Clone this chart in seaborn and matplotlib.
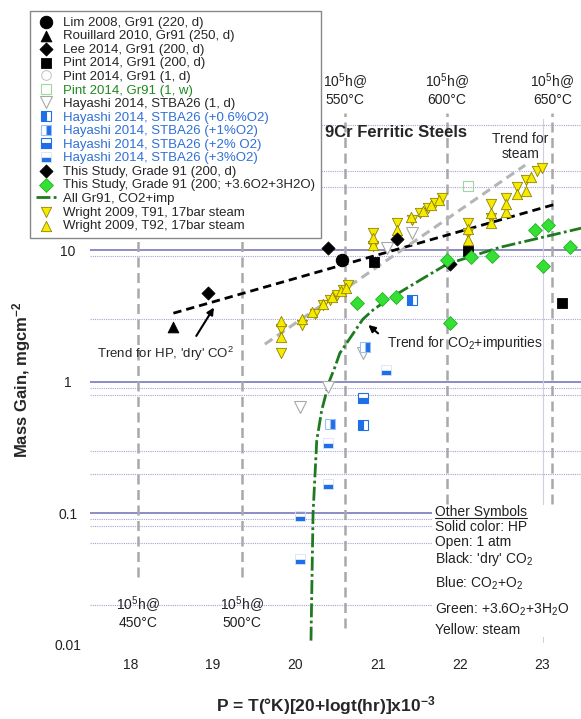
import numpy as np
import pandas as pd
import seaborn as sns
import matplotlib.pyplot as plt
from matplotlib.lines import Line2D
from matplotlib.patches import Rectangle

# ---- data (P parameter, mass gain mg/cm2) ----
lim_p = [20.57]
lim_m = [8.4]
rouillard_p = [18.52]
rouillard_m = [2.6]
lee_p = [18.94, 20.40]
lee_m = [4.7, 10.4]
pint200_p = [20.95, 22.10, 23.24]
pint200_m = [8.2, 9.8, 3.95]
pint1d_p = []
pint1d_m = []
pint1w_p = [22.10]
pint1w_m = [31.0]
hay1d_p = [21.11, 21.41, 20.06, 20.40, 20.82]
hay1d_m = [10.4, 13.5, 0.64, 0.91, 1.66]
hay06_p = [21.42, 20.82]
hay06_m = [4.2, 0.47]
hay1_p = [20.85, 20.42]
hay1_m = [1.83, 0.48]
hay2_p = [20.82]
hay2_m = [0.75]
hay3_p = [21.10, 20.40, 20.40, 20.06, 20.06]
hay3_m = [1.22, 0.34, 0.166, 0.095, 0.045]
study_dry_p = [21.23, 21.88]
study_dry_m = [12.1, 7.8]
study_wet_p = [20.75, 21.05, 21.22, 21.88, 21.84, 22.13, 22.39, 22.91, 23.07, 23.00, 23.33]
study_wet_m = [3.95, 4.24, 4.4, 2.79, 8.4, 8.85, 9.0, 14.2, 15.5, 7.55, 10.5]
t91_p = [19.83, 19.83, 20.08, 20.24, 20.34, 20.42, 20.50, 20.58, 20.64, 20.94, 20.94,
         21.23, 21.42, 21.51, 21.61, 21.70, 21.78, 22.10, 22.10, 22.38, 22.38, 22.56,
         22.69, 22.80, 22.93, 22.99]
t91_m = [1.65, 2.5, 2.7, 3.3, 3.8, 4.2, 4.6, 5.0, 5.4, 10.8, 13.6,
         16.0, 17.0, 19.0, 21.0, 23.0, 25.0, 13.5, 16.0, 17.5, 22.5, 25.0,
         30.0, 34.0, 40.0, 42.0]
t92_p = [19.83, 19.83, 20.08, 20.20, 20.34, 20.45, 20.55, 20.62, 20.94, 20.94, 21.23,
         21.40, 21.55, 21.65, 21.74, 22.10, 22.10, 22.38, 22.38, 22.56, 22.56, 22.69,
         22.80, 22.86]
t92_m = [2.2, 2.9, 3.0, 3.4, 3.9, 4.4, 4.9, 5.2, 11.0, 12.3, 14.3,
         18.0, 20.0, 22.0, 24.0, 12.0, 14.5, 16.0, 19.0, 19.5, 22.5, 26.5,
         28.0, 36.0]

# trend lines
dry_trend_p = [18.52, 23.16]
dry_trend_m = [3.32, 22.4]
steam_trend_p = [19.63, 22.79]
steam_trend_m = [1.93, 44.3]
imp_trend_p = [20.19, 20.215, 20.26, 20.32, 20.41, 20.48, 20.54, 20.82, 20.94,
               21.11, 21.51, 21.84, 22.48, 23.47]
imp_trend_m = [0.0108, 0.1, 0.359, 0.607, 1.0, 1.29, 1.65, 2.99, 3.5,
               4.17, 5.9, 7.83, 10.5, 14.7]

# 10^5 h reference lines
ref_p = [18.09, 19.35, 20.60, 21.84, 23.12]
ref_t = ['450', '500', '550', '600', '650']

xticks = [18, 19, 20, 21, 22, 23]
yticks = [0.01, 0.1, 1, 10]
ytick_labels = ['0.01', '0.1', '1', '10']
solid_grid = [0.1, 1, 10]
dotted_grid = [0.02, 0.06, 0.08, 0.09, 0.2, 0.3, 0.8, 0.9, 3, 9, 30, 40, 90]

sns.set_style("white")
plt.rcParams['font.family'] = ['Liberation Sans', 'DejaVu Sans']
plt.rcParams['mathtext.fontset'] = 'custom'
plt.rcParams['mathtext.rm'] = 'Liberation Sans'
plt.rcParams['mathtext.it'] = 'Liberation Sans:italic'
plt.rcParams['mathtext.bf'] = 'Liberation Sans:bold'

W, H = 581, 719
fig = plt.figure(figsize=(W / 100, H / 100), dpi=100)
ax = fig.add_axes([90 / W, (H - 645) / H, (W - 90) / W, 540 / H])
ax.set_yscale('log')
ax.set_xlim(17.508, 23.467)
ax.set_ylim(0.01, 126.8)
for s in ax.spines.values():
    s.set_visible(False)

# grid
for v in solid_grid:
    ax.axhline(v, color='#6e6eb4', lw=1.1, zorder=0)
for v in dotted_grid:
    ax.axhline(v, color='#a4a4d4', lw=0.8, ls=(0, (1, 1)), zorder=0)
ax.plot([23.0, 23.0], [0.0105, 100], color='#cfcfe0', lw=0.8, zorder=0)

# reference lines for 1e5 h
for p, t in zip(ref_p, ref_t):
    lo = 0.033 if t in ('450', '500') else 0.0135
    ax.plot([p, p], [lo, 110], color='#a9a9a9', lw=1.8, dashes=(4, 2.2), zorder=1)
    lbl = '10$^5$h@\n' + t + '°C'
    ypos = 0.0178 if t in ('450', '500') else 167
    ax.text(p, ypos, lbl, ha='center', va='center', fontsize=10,
            linespacing=1.15, color='#222222')

# trend lines
ax.plot(dry_trend_p, dry_trend_m, color='black', lw=2, dashes=(3, 1.8), zorder=2)
ax.plot(steam_trend_p, steam_trend_m, color='#b5b5b5', lw=2.2, dashes=(3, 1.8), zorder=2)
ax.plot(imp_trend_p, imp_trend_m, color='#1f7a1f', lw=2, dashes=(5, 1.2, 1, 1.2), zorder=2,
        label='All Gr91, CO2+imp')

# markers
blue = '#1f6fe8'
sns.scatterplot(x=lim_p, y=lim_m, marker='o', s=80, color='black', ec='black', ax=ax,
                label='Lim 2008, Gr91 (220, d)', zorder=4)
sns.scatterplot(x=rouillard_p, y=rouillard_m, marker='^', s=60, color='black', ec='black', ax=ax,
                label='Rouillard 2010, Gr91 (250, d)', zorder=4)
sns.scatterplot(x=lee_p, y=lee_m, marker='D', s=45, color='black', ec='black', ax=ax,
                label='Lee 2014, Gr91 (200, d)', zorder=4)
sns.scatterplot(x=pint200_p, y=pint200_m, marker='s', s=55, color='black', ec='black', ax=ax,
                label='Pint 2014, Gr91 (200, d)', zorder=4)
ax.plot(pint1d_p, pint1d_m, ls='none', marker='o', ms=7, mfc='none', mec='#c8c8c8', mew=0.8,
        label='Pint 2014, Gr91 (1, d)')
ax.plot(pint1w_p, pint1w_m, ls='none', marker='s', ms=7, mfc='none', mec='#9fd79f', mew=0.8,
        label='Pint 2014, Gr91 (1, w)', zorder=4)
ax.plot(hay1d_p, hay1d_m, ls='none', marker='v', ms=8, mfc='white', mec='#a8a8a8', mew=0.8,
        label='Hayashi 2014, STBA26 (1, d)', zorder=4)
ax.plot(hay06_p, hay06_m, ls='none', marker='s', ms=7, fillstyle='left', mfc=blue,
        mfcalt='white', mec=blue, mew=0.8, label='Hayashi 2014, STBA26 (+0.6%O2)', zorder=4)
ax.plot(hay1_p, hay1_m, ls='none', marker='s', ms=7, fillstyle='right', mfc=blue,
        mfcalt='white', mec='#9cc0f2', mew=0.8, label='Hayashi 2014, STBA26 (+1%O2)', zorder=4)
ax.plot(hay2_p, hay2_m, ls='none', marker='s', ms=7, fillstyle='bottom', mfc=blue,
        mfcalt='white', mec=blue, mew=0.8, label='Hayashi 2014, STBA26 (+2% O2)', zorder=4)
ax.plot(hay3_p, hay3_m, ls='none', marker='s', ms=7, fillstyle='bottom', mfc=blue,
        mfcalt='none', mec='#d6e4f8', mew=0.6, label='Hayashi 2014, STBA26 (+3%O2)', zorder=4)
sns.scatterplot(x=study_dry_p, y=study_dry_m, marker='D', s=45, color='black', ec='black', ax=ax,
                label='This Study, Grade 91 (200, d)', zorder=4)
sns.scatterplot(x=study_wet_p, y=study_wet_m, marker='D', s=50, color='#35e035', ec='#25b025',
                lw=0.6, ax=ax, label='This Study, Grade 91 (200; +3.6O2+3H2O)', zorder=4)
sns.scatterplot(x=t91_p, y=t91_m, marker='v', s=55, color='#f6ea00', ec='#8f8200', lw=0.6,
                ax=ax, label='Wright 2009, T91, 17bar steam', zorder=3)
sns.scatterplot(x=t92_p, y=t92_m, marker='^', s=55, color='#f6ea00', ec='#8f8200', lw=0.6,
                ax=ax, label='Wright 2009, T92, 17bar steam', zorder=3)

# annotations
ax.text(20.36, 79, '9Cr Ferritic Steels', fontsize=12, fontweight='bold', va='center')
ax.text(22.73, 61, 'Trend for\nsteam', fontsize=10, ha='center', va='center', linespacing=1.1)
ax.text(17.59, 1.62, "Trend for HP, 'dry' CO$^2$", fontsize=9.5, va='center')
ax.annotate('', xy=(19.03, 3.82), xytext=(18.78, 2.14),
            arrowprops=dict(arrowstyle='-|>', color='black', lw=1.5, mutation_scale=10))
ax.text(21.11, 1.96, 'Trend for CO$_2$+impurities', fontsize=10, va='center')
ax.annotate('', xy=(20.86, 2.79), xytext=(21.03, 2.26),
            arrowprops=dict(arrowstyle='-|>', color='black', lw=1.5, mutation_scale=10))

ax.add_patch(Rectangle((21.66, 0.0115), 1.82, 0.115 - 0.0115, facecolor='white',
                       edgecolor='none', zorder=5))
sym_lines = ['Other Symbols', 'Solid color: HP', 'Open: 1 atm', "Black: 'dry' CO$_2$",
             'Blue: CO$_2$+O$_2$', 'Green: +3.6O$_2$+3H$_2$O', 'Yellow: steam']
sym_y = [0.1019, 0.0783, 0.0602, 0.0447, 0.0294, 0.0186, 0.0131]
sym_texts = []
for t, y in zip(sym_lines, sym_y):
    sym_texts.append(ax.text(21.69, y, t, fontsize=10, va='center', zorder=6, color='#222222'))

# axes ticks
ax.set_xticks(xticks)
ax.set_xticklabels([str(x) for x in xticks])
ax.set_yticks(yticks)
ax.set_yticklabels(ytick_labels)
ax.yaxis.set_minor_locator(plt.NullLocator())
ax.tick_params(axis='both', length=0, labelsize=10, colors='#222222')
ax.tick_params(axis='y', pad=15.8)
ax.tick_params(axis='x', pad=9.5)
for lbl in ax.get_yticklabels():
    lbl.set_horizontalalignment('center')

fig.text(22 / W, 1 - 380 / H, 'Mass Gain, mgcm$^{\\mathbf{-2}}$', rotation=90,
         ha='center', va='center', fontsize=12, fontweight='bold')
fig.text(326 / W, 1 - 706 / H, 'P = T(°K)[20+logt(hr)]x10$^{\\mathbf{-3}}$',
         ha='center', va='center', fontsize=12.5, fontweight='bold')

# legend
handles, labels = ax.get_legend_handles_labels()
if ax.get_legend() is not None:
    ax.get_legend().remove()
order = ['Lim 2008, Gr91 (220, d)', 'Rouillard 2010, Gr91 (250, d)', 'Lee 2014, Gr91 (200, d)',
         'Pint 2014, Gr91 (200, d)', 'Pint 2014, Gr91 (1, d)', 'Pint 2014, Gr91 (1, w)',
         'Hayashi 2014, STBA26 (1, d)', 'Hayashi 2014, STBA26 (+0.6%O2)',
         'Hayashi 2014, STBA26 (+1%O2)', 'Hayashi 2014, STBA26 (+2% O2)',
         'Hayashi 2014, STBA26 (+3%O2)', 'This Study, Grade 91 (200, d)',
         'This Study, Grade 91 (200; +3.6O2+3H2O)', 'All Gr91, CO2+imp',
         'Wright 2009, T91, 17bar steam', 'Wright 2009, T92, 17bar steam']
hmap = dict(zip(labels, handles))
leg = fig.legend([hmap[k] for k in order], order, loc='upper left',
                 bbox_to_anchor=(23 / W, 1 - 4 / H), fontsize=9.5, labelspacing=0.1,
                 handlelength=1.6, handletextpad=0.5, borderpad=0.45, frameon=True,
                 fancybox=False, framealpha=1, edgecolor='#888888')
leg.get_frame().set_linewidth(1.0)
leg.set_zorder(10)
for txt in leg.get_texts():
    if 'Hayashi' in txt.get_text() and '%' in txt.get_text():
        txt.set_color('#2f6fd6')
    elif '(1, w)' in txt.get_text():
        txt.set_color('#1e8a1e')

# underline "Other Symbols"
fig.canvas.draw()
bb = sym_texts[0].get_window_extent(fig.canvas.get_renderer())
fig.add_artist(Line2D([bb.x0 / W, bb.x1 / W], [(bb.y0 + 1) / H, (bb.y0 + 1) / H],
                      color='#222222', lw=0.8, zorder=7))

fig.savefig('out.png', dpi=100)
